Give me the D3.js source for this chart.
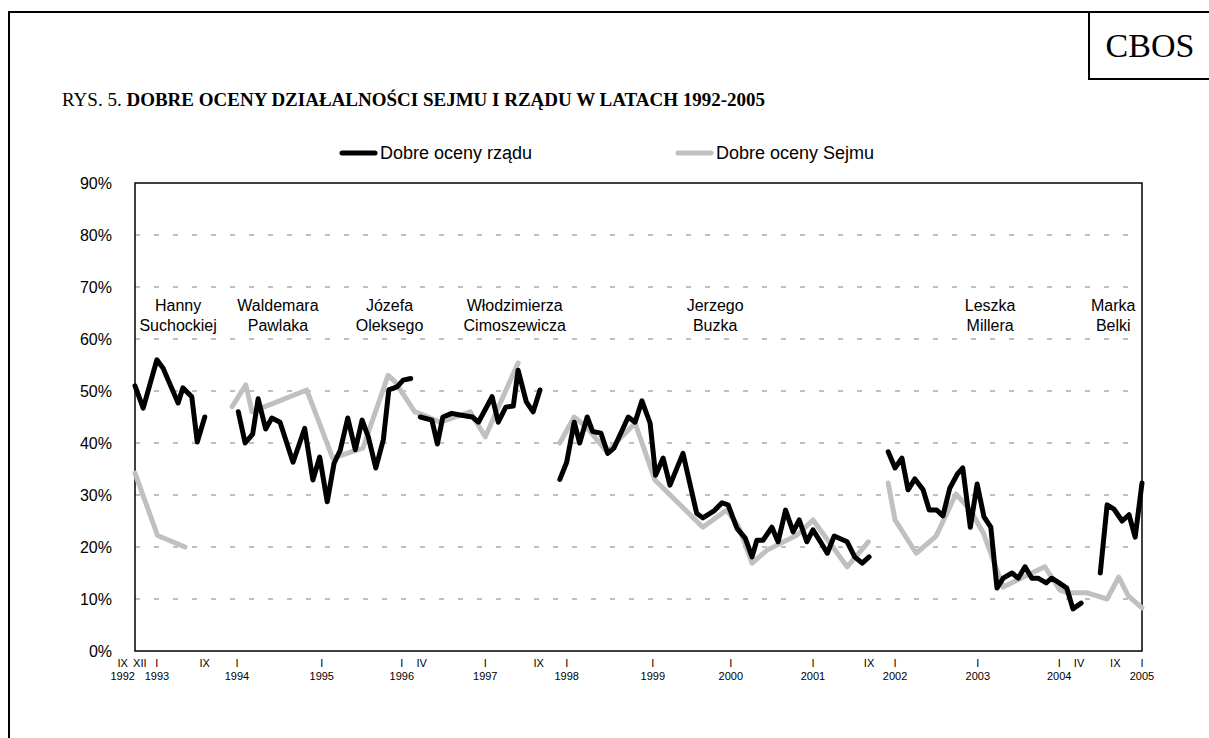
<!DOCTYPE html>
<html>
<head>
<meta charset="utf-8">
<script src="https://cdn.jsdelivr.net/npm/d3@7"></script>
<style>
  body { margin: 0; background: #fff; }
  text { font-family: "Liberation Sans", Arial, sans-serif; }
  .serif { font-family: "Liberation Serif", "Times New Roman", serif; }
</style>
</head>
<body>
<div id="chart"></div>
<script>
// months counted from I 1993 (0 = styczen 1993); null value = przerwa w serii
var rzad = [
  [-3.2,51],[-2.0,46.7],[0.0,56],[0.9,54.4],[3.1,47.7],[3.8,50.6],[5.1,48.9],[5.9,40.2],[7.0,45],
  [9,null],
  [11.9,46],[12.9,40],[14.0,41.7],[14.8,48.5],[15.9,42.7],[16.8,44.8],[18.0,44],[19.9,36.3],[21.6,42.8],
  [22.8,32.9],[23.8,37.3],[24.9,28.7],[25.9,36.1],[26.8,38.6],[27.9,44.8],[29.0,38.7],[30.0,44.4],
  [30.9,41.2],[32.0,35.2],[33.1,40.6],[33.9,50.2],[35.1,50.8],[36.0,52.1],[37.1,52.4],
  [37.8,null],
  [38.5,45],[40.2,44.4],[41.0,39.8],[41.8,45],[43.1,45.7],[44.3,45.4],[46.1,45],[47.0,44],[49.0,48.9],
  [49.9,44],[51.0,46.9],[52.1,47.1],[52.8,54],[54.0,47.9],[55.0,46],[56.0,50.2],
  [57,null],
  [58.9,33],[59.9,36.3],[61.0,44],[61.8,40],[62.9,45],[63.7,42.2],[64.9,41.9],[65.9,38],[66.8,39],
  [68.9,45],[69.9,44],[70.9,48.1],[72.1,43.8],[72.9,33.8],[74.0,37.1],[75.0,31.9],[76.9,38],
  [78.9,26.5],[79.8,25.6],[81.5,27],[82.6,28.5],[83.5,28.1],[84.8,23.6],[86.0,21.7],[87.0,18.1],
  [87.7,21.3],[88.6,21.3],[89.9,23.8],[90.8,21],[91.9,27.1],[93.0,22.9],[93.9,25.2],[95.0,21],
  [95.9,23.3],[97.0,21],[98.0,18.8],[99.0,22.1],[100.9,21],[102.0,18.1],[103.1,16.9],[104.1,18.1],
  [105,null],
  [106.9,38.3],[107.9,35.2],[108.9,37.1],[109.8,31],[110.8,33.1],[112.0,31],[112.9,27.1],[114.0,27.1],
  [114.9,26],[115.9,31.3],[117.0,34],[117.8,35.2],[118.9,23.8],[119.9,32.1],[120.9,25.8],[121.9,23.8],
  [122.8,12.1],[123.7,14],[125.0,15],[125.9,14],[126.9,16.2],[127.9,14],[128.8,14],[130.0,13.1],
  [130.8,14],[131.9,13.1],[133.0,12.1],[133.9,8.1],[135.1,9.2],
  [136,null],
  [137.9,15],[138.9,28.1],[139.9,27.3],[141.1,25],[142.1,26.2],[143.0,21.9],[144.0,32.3]
];

var sejm = [
  [-3.2,34.2],[0.1,22.2],[4.1,20],
  [8,null],
  [11.0,47],[13.0,51.2],[13.9,46],[21.9,50.2],[25.7,37.1],[30.1,39],[33.8,53],[34.8,51.8],
  [37.7,46],[38.9,45.4],[41.4,44],[45.8,46],[48.0,41.2],[52.8,55.4],
  [56,null],
  [58.9,40],[61.0,45],[62.9,42.9],[65.8,38.3],[69.9,43.8],[72.8,32.9],[79.8,23.8],[83.3,27.1],
  [85.0,24],[87.0,16.9],[89.2,19.4],[93.6,22.3],[95.9,25.2],[98.8,20],[100.9,16.2],[104.0,21],
  [105,null],
  [106.9,32.3],[107.9,25.2],[111.0,18.8],[113.9,22.1],[116.8,30.2],[118.9,27.1],[120.8,22.7],
  [123.7,12.3],[129.8,16.2],[132.0,11.7],[133.2,11.2],[136.0,11.2],[138.9,10],[140.6,14.2],
  [142.0,10.6],[144.0,8.3]
];

var yTicks = [0,10,20,30,40,50,60,70,80,90];

// tick marks on the time axis: position (months from I 1993), roman month, year
var xTicks = [
  [-5.0,"IX","1992"],[-2.5,"XII",""],[0,"I","1993"],[7.0,"IX",""],[11.7,"I","1994"],
  [24.1,"I","1995"],[35.8,"I","1996"],[38.7,"IV",""],[48.0,"I","1997"],[55.8,"IX",""],
  [59.9,"I","1998"],[72.5,"I","1999"],[83.9,"I","2000"],[95.9,"I","2001"],[104.1,"IX",""],
  [107.9,"I","2002"],[120.0,"I","2003"],[131.9,"I","2004"],[134.8,"IV",""],[140.1,"IX",""],
  [144.0,"I","2005"]
];

// nazwiska premierow: [pozycja, linia 1, linia 2]
var premierzy = [
  [3.1,"Hanny","Suchockiej"],
  [17.7,"Waldemara","Pawlaka"],
  [34.0,"Józefa","Oleksego"],
  [52.3,"Włodzimierza","Cimoszewicza"],
  [81.6,"Jerzego","Buzka"],
  [121.8,"Leszka","Millera"],
  [139.8,"Marka","Belki"]
];

var W = 1209, H = 738;
var pLeft = 135, pRight = 1142, pTop = 183, pBottom = 651;

var svg = d3.select("#chart").append("svg")
  .attr("width", W).attr("height", H);

svg.append("rect").attr("width", W).attr("height", H).attr("fill", "#fff");

// ramka strony
svg.append("path")
  .attr("d", "M9,738 V12 H1209")
  .attr("fill", "none").attr("stroke", "#000").attr("stroke-width", 2);
svg.append("path")
  .attr("d", "M1089,12 V79 H1209")
  .attr("fill", "none").attr("stroke", "#000").attr("stroke-width", 2);
svg.append("text").attr("class", "serif")
  .attr("x", 1150).attr("y", 57)
  .attr("text-anchor", "middle")
  .style("font-size", "34px")
  .text("CBOS");

var title = svg.append("text").attr("class", "serif")
  .attr("x", 62).attr("y", 106)
  .style("font-size", "19px");
title.append("tspan").text("RYS. 5. ");
title.append("tspan").style("font-weight", "bold")
  .text("DOBRE OCENY DZIAŁALNOŚCI SEJMU I RZĄDU W LATACH 1992-2005");

var x = d3.scaleLinear().domain([-3.2, 144]).range([pLeft, pRight]);
var y = d3.scaleLinear().domain([0, 90]).range([pBottom, pTop]);

// siatka
svg.append("g").selectAll("line")
  .data(yTicks.filter(function (d) { return d > 0 && d < 90; }))
  .enter().append("line")
  .attr("x1", pLeft).attr("x2", pRight)
  .attr("y1", function (d) { return y(d); })
  .attr("y2", function (d) { return y(d); })
  .attr("stroke", "#808080")
  .attr("stroke-width", 1)
  .attr("stroke-dasharray", "5,14");

svg.append("rect")
  .attr("x", pLeft).attr("y", pTop)
  .attr("width", pRight - pLeft).attr("height", pBottom - pTop)
  .attr("fill", "none").attr("stroke", "#000").attr("stroke-width", 1.5);

// os Y
svg.append("g").selectAll("text")
  .data(yTicks).enter().append("text")
  .attr("x", 112)
  .attr("y", function (d) { return y(d); })
  .attr("dy", "0.35em")
  .attr("text-anchor", "end")
  .style("font-size", "16px")
  .text(function (d) { return d + "%"; });

// os X
var xt = svg.append("g").selectAll("g")
  .data(xTicks).enter().append("g");
xt.append("text")
  .attr("x", function (d) { return x(d[0]); })
  .attr("y", 667)
  .attr("text-anchor", "middle")
  .style("font-size", "11px")
  .text(function (d) { return d[1]; });
xt.append("text")
  .attr("x", function (d) { return x(d[0]); })
  .attr("y", 680)
  .attr("text-anchor", "middle")
  .style("font-size", "11px")
  .text(function (d) { return d[2]; });

// nazwiska
var pr = svg.append("g").selectAll("text")
  .data(premierzy).enter().append("text")
  .attr("text-anchor", "middle")
  .style("font-size", "16px");
pr.append("tspan")
  .attr("x", function (d) { return x(d[0]); })
  .attr("y", y(65.4))
  .text(function (d) { return d[1]; });
pr.append("tspan")
  .attr("x", function (d) { return x(d[0]); })
  .attr("y", y(61.5))
  .text(function (d) { return d[2]; });

var line = d3.line()
  .defined(function (d) { return d[1] != null; })
  .x(function (d) { return x(d[0]); })
  .y(function (d) { return y(d[1]); });

svg.append("path").datum(sejm)
  .attr("d", line)
  .attr("fill", "none")
  .attr("stroke", "#c0c0c0")
  .attr("stroke-width", 5)
  .attr("stroke-linejoin", "round")
  .attr("stroke-linecap", "round");

svg.append("path").datum(rzad)
  .attr("d", line)
  .attr("fill", "none")
  .attr("stroke", "#000")
  .attr("stroke-width", 5)
  .attr("stroke-linejoin", "round")
  .attr("stroke-linecap", "round");

// legenda
var legenda = [
  ["Dobre oceny rządu", "#000", 342],
  ["Dobre oceny Sejmu", "#c0c0c0", 678]
];
var lg = svg.append("g").selectAll("g")
  .data(legenda).enter().append("g");
lg.append("line")
  .attr("x1", function (d) { return d[2]; })
  .attr("x2", function (d) { return d[2] + 33; })
  .attr("y1", 153).attr("y2", 153)
  .attr("stroke", function (d) { return d[1]; })
  .attr("stroke-width", 5)
  .attr("stroke-linecap", "round");
lg.append("text")
  .attr("x", function (d) { return d[2] + 38; })
  .attr("y", 159)
  .style("font-size", "18px")
  .text(function (d) { return d[0]; });
</script>
</body>
</html>
